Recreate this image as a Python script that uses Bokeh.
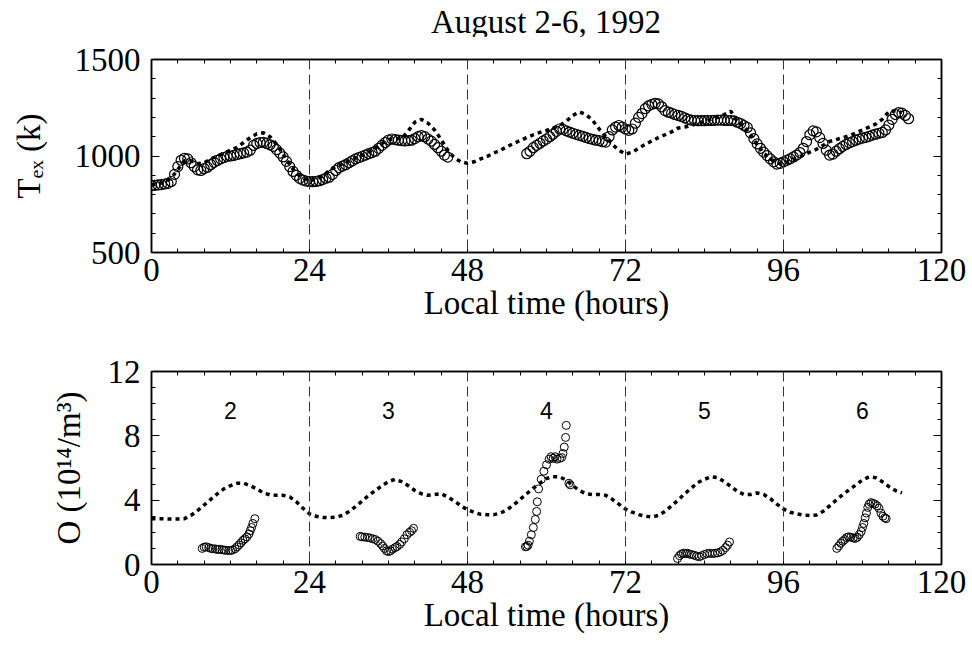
from bokeh.plotting import figure
from bokeh.models import LinearAxis, FixedTicker, Span, Range1d, Div
from bokeh.layouts import column
from bokeh.core.properties import value
from bokeh.embed import file_html
from bokeh.resources import INLINE

# ---------------- data ----------------
title_text = "August 2-6, 1992"
x_label = "Local time (hours)"
tex_label = "T\u2091\u2093 (k)"
o_label = "O (10\u00b9\u2074/m\u00b3)"
x_ticks = [0, 24, 48, 72, 96, 120]
x_minor = [4, 8, 12, 16, 20, 28, 32, 36, 40, 44, 52, 56, 60, 64, 68, 76,
           80, 84, 88, 92, 100, 104, 108, 112, 116]
tex_ticks = [500, 1000, 1500]
tex_minor = [600, 700, 800, 900, 1100, 1200, 1300, 1400]
o_ticks = [0, 4, 8, 12]
o_minor = [1, 2, 3, 5, 6, 7, 9, 10, 11]
day_bounds = [24, 48, 72, 96]
day_names = ["2", "3", "4", "5", "6"]
day_centers = [12, 36, 60, 84, 108]

# observed exospheric temperature (K)
tex_obs_t = [
    0.0, 0.5, 1.0, 1.5, 2.0, 2.5, 3.0, 3.5, 4.0, 4.5,
    5.0, 5.5, 6.0, 6.5, 7.0, 7.5, 8.0, 8.5, 9.0, 9.5,
    10.0, 10.5, 11.0, 11.5, 12.0, 12.5, 13.0, 13.5, 14.0, 14.5,
    15.0, 15.5, 16.0, 16.5, 17.0, 17.5, 18.0, 18.5, 19.0, 19.5,
    20.0, 20.5, 21.0, 21.5, 22.0, 22.5, 23.0, 23.5, 24.0, 24.5,
    25.0, 25.5, 26.0, 26.5, 27.0, 27.5, 28.0, 28.5, 29.0, 29.5,
    30.0, 30.5, 31.0, 31.5, 32.0, 32.5, 33.0, 33.5, 34.0, 34.5,
    35.0, 35.5, 36.0, 36.5, 37.0, 37.5, 38.0, 38.5, 39.0, 39.5,
    40.0, 40.5, 41.0, 41.5, 42.0, 42.5, 43.0, 43.5, 44.0, 44.5, 45.0,
    57.0, 57.5, 58.0, 58.5, 59.0, 59.5, 60.0, 60.5, 61.0, 61.5,
    62.0, 62.5, 63.0, 63.5, 64.0, 64.5, 65.0, 65.5, 66.0, 66.5,
    67.0, 67.5, 68.0, 68.5, 69.0, 69.5, 70.0, 70.5, 71.0, 71.5,
    72.0, 72.5, 73.0, 73.5, 74.0, 74.5, 75.0, 75.5, 76.0, 76.5,
    77.0, 77.5, 78.0, 78.5, 79.0, 79.5, 80.0, 80.5, 81.0, 81.5,
    82.0, 82.5, 83.0, 83.5, 84.0, 84.5, 85.0, 85.5, 86.0, 86.5,
    87.0, 87.5, 88.0, 88.5, 89.0, 89.5, 90.0, 90.5, 91.0, 91.5,
    92.0, 92.5, 93.0, 93.5, 94.0, 94.5, 95.0, 95.5, 96.0, 96.5,
    97.0, 97.5, 98.0, 98.5, 99.0, 99.5, 100.0, 100.5, 101.0, 101.5,
    102.0, 102.5, 103.0, 103.5, 104.0, 104.5, 105.0, 105.5, 106.0, 106.5,
    107.0, 107.5, 108.0, 108.5, 109.0, 109.5, 110.0, 110.5, 111.0, 111.5,
    112.0, 112.5, 113.0, 113.5, 114.0, 114.5, 115.0]
tex_obs = [
    847, 848, 850, 852, 855, 858, 868, 905, 945, 978,
    988, 985, 965, 945, 928, 925, 935, 942, 955, 967,
    977, 985, 992, 998, 1000, 1003, 1008, 1012, 1016, 1020,
    1030, 1055, 1065, 1070, 1071, 1065, 1058, 1050, 1033, 1015,
    995, 972, 945, 920, 900, 884, 875, 870, 868, 867,
    868, 872, 878, 885, 890, 905, 925, 940, 948, 955,
    965, 975, 985, 992, 998, 1005, 1012, 1018, 1025, 1040,
    1055, 1070, 1083, 1088, 1085, 1082, 1080, 1078, 1080, 1082,
    1090, 1100, 1106, 1100, 1088, 1077, 1060, 1043, 1025, 1005, 994,
    1012, 1025, 1043, 1055, 1066, 1078, 1088, 1100, 1113, 1128,
    1140, 1138, 1130, 1124, 1118, 1112, 1107, 1102, 1096, 1090,
    1086, 1082, 1080, 1074, 1072, 1100, 1135, 1150, 1158, 1150,
    1140, 1133, 1140, 1170, 1200, 1220, 1245, 1260, 1268, 1273,
    1270, 1255, 1235, 1227, 1222, 1215, 1210, 1205, 1198, 1190,
    1186, 1184, 1183, 1183, 1183, 1184, 1184, 1185, 1186, 1186,
    1185, 1184, 1184, 1182, 1175, 1168, 1158, 1148, 1120, 1090,
    1063, 1040, 1020, 1002, 985, 970, 958, 962, 970, 978,
    985, 995, 1005, 1018, 1040, 1075, 1110, 1130, 1125, 1095,
    1065, 1030, 1005, 1010, 1025, 1038, 1050, 1060, 1068, 1075,
    1082, 1088, 1093, 1097, 1102, 1108, 1113, 1118, 1122, 1135,
    1160, 1190, 1215, 1225, 1222, 1210, 1193]

# model exospheric temperature (K)
model_t = [
    0, 1, 2, 3, 4, 5, 6, 7, 8, 9, 10, 11, 12, 13, 14, 15, 16, 17, 18, 19,
    20, 21, 22, 23, 24, 25, 26, 27, 28, 29, 30, 31, 32, 33, 34, 35, 36, 37, 38, 39,
    40, 41, 42, 43, 44, 45, 46, 47, 48, 49, 50, 51, 52, 53, 54, 55, 56, 57, 58, 59,
    60, 61, 62, 63, 64, 65, 66, 67, 68, 69, 70, 71, 72, 73, 74, 75, 76, 77, 78, 79,
    80, 81, 82, 83, 84, 85, 86, 87, 88, 89, 90, 91, 92, 93, 94, 95, 96, 97, 98, 99,
    100, 101, 102, 103, 104, 105, 106, 107, 108, 109, 110, 111, 112, 113, 114]
tex_model = [
    850, 855, 865, 885, 930, 975, 975, 960, 965, 985,
    1000, 1015, 1030, 1045, 1070, 1095, 1115, 1120, 1100, 1060,
    1010, 955, 910, 885, 872, 880, 895, 925, 945, 960,
    975, 990, 1005, 1020, 1040, 1065, 1085, 1090, 1090, 1130,
    1175, 1190, 1170, 1135, 1085, 1030, 990, 970, 962, 970,
    985, 998, 1015, 1030, 1048, 1065, 1080, 1095, 1110, 1122,
    1133, 1145, 1158, 1180, 1210, 1228, 1215, 1185, 1140, 1100,
    1060, 1030, 1010, 1020, 1040, 1060, 1078, 1095, 1110, 1125,
    1145, 1150, 1158, 1170, 1180, 1190, 1200, 1215, 1232, 1178,
    1155, 1110, 1060, 1015, 985, 962, 962, 975, 990, 1005,
    1020, 1035, 1055, 1075, 1085, 1095, 1105, 1120, 1135, 1150,
    1165, 1190, 1230, 1235, 1225]

# observed atomic oxygen density (10^14 / m^3)
o_obs_t = [
    7.7, 8.0, 8.3, 8.7, 9.0, 9.3, 9.7, 10.0, 10.3, 10.7, 11.0, 11.3, 11.7, 12.0,
    12.3, 12.7, 13.0, 13.3, 13.6, 13.9, 14.2, 14.5, 14.8, 15.0, 15.2, 15.4, 15.7,
    31.7, 32.0, 32.4, 32.8, 33.2, 33.6, 34.0, 34.4, 34.8, 35.1, 35.4, 35.7, 36.0,
    36.3, 36.6, 37.0, 37.3, 37.7, 38.0, 38.4, 38.8, 39.2, 39.5, 39.8,
    56.8, 57.0, 57.2, 57.4, 57.7, 58.0, 58.3, 58.5, 58.6, 58.8, 59.2, 59.6, 60.0,
    60.4, 60.7, 61.0, 61.3, 61.6, 62.0, 62.3, 62.5, 62.7, 62.9, 63.0, 63.4, 63.6,
    79.9, 80.2, 80.5, 80.8, 81.1, 81.4, 81.7, 82.0, 82.4, 82.8, 83.2, 83.6, 84.0,
    84.4, 84.8, 85.2, 85.6, 86.0, 86.4, 86.8, 87.2, 87.5, 87.8,
    104.1, 104.4, 104.7, 105.0, 105.3, 105.6, 105.9, 106.2, 106.6, 106.9, 107.2,
    107.5, 107.8, 108.0, 108.2, 108.4, 108.6, 108.8, 109.0, 109.3, 109.6, 109.9,
    110.2, 110.5, 110.8, 111.1, 111.4, 111.6]
o_obs = [
    1.0, 1.08, 1.1, 1.05, 1.0, 0.98, 0.97, 0.93, 0.95, 0.92, 0.9, 0.88, 0.87, 0.87,
    0.9, 0.98, 1.1, 1.22, 1.35, 1.5, 1.6, 1.72, 1.9, 2.1, 2.3, 2.55, 2.85,
    1.75, 1.72, 1.7, 1.68, 1.65, 1.6, 1.55, 1.45, 1.3, 1.15, 1.0, 0.85, 0.8,
    0.85, 0.95, 1.05, 1.12, 1.25, 1.4, 1.6, 1.85, 2.0, 2.1, 2.25,
    1.1, 1.12, 1.2, 1.45, 1.85, 2.3, 2.8, 3.3, 3.9, 4.7, 5.3, 5.8, 6.2,
    6.55, 6.7, 6.6, 6.7, 6.55, 6.6, 6.65, 6.9, 7.3, 7.9, 8.65, 5.05, 4.95,
    0.37, 0.55, 0.65, 0.7, 0.68, 0.7, 0.65, 0.62, 0.58, 0.52, 0.48, 0.55, 0.62,
    0.68, 0.7, 0.68, 0.7, 0.72, 0.78, 0.88, 1.05, 1.2, 1.4,
    1.0, 1.15, 1.32, 1.45, 1.55, 1.68, 1.72, 1.7, 1.65, 1.62, 1.7,
    1.85, 2.05, 2.3, 2.55, 2.9, 3.2, 3.55, 3.75, 3.85, 3.8, 3.75,
    3.65, 3.5, 3.2, 3.0, 2.9, 2.85]

# model atomic oxygen density
o_model = [
    2.85, 2.84, 2.84, 2.83, 2.83, 2.85, 3.05, 3.35, 3.7, 4.05,
    4.4, 4.7, 4.9, 5.05, 5.05, 4.9, 4.7, 4.45, 4.33, 4.3,
    4.3, 4.2, 3.9, 3.5, 3.15, 3.0, 2.93, 2.92, 2.95, 3.05,
    3.3, 3.6, 3.95, 4.3, 4.6, 4.9, 5.15, 5.3, 5.15, 4.9,
    4.6, 4.4, 4.3, 4.35, 4.4, 4.2, 3.95, 3.65, 3.4, 3.25,
    3.12, 3.1, 3.1, 3.2, 3.4, 3.7, 4.05, 4.4, 4.75, 5.05,
    5.35, 5.45, 5.45, 5.25, 4.9, 4.6, 4.4, 4.35, 4.35, 4.3,
    4.05, 3.75, 3.45, 3.25, 3.1, 3.0, 2.95, 3.05, 3.3, 3.65,
    4.0, 4.4, 4.75, 5.1, 5.3, 5.45, 5.4, 5.15, 4.85, 4.55,
    4.35, 4.35, 4.45, 4.35, 4.1, 3.75, 3.45, 3.25, 3.15, 3.08,
    3.05, 3.08, 3.3, 3.65, 4.0, 4.35, 4.65, 4.95, 5.25, 5.45,
    5.4, 5.15, 4.85, 4.6, 4.45]

# ---------------- style ----------------
SERIF = "Liberation Serif"
SANS = "Liberation Sans"
FS = "33px"
W = 972
TITLE_H = 36


def style_main_axis(ax, ticks, minor, standoff, label, label_standoff):
    ax.ticker = FixedTicker(ticks=ticks, minor_ticks=minor)
    ax.major_tick_in = 8
    ax.major_tick_out = 0
    ax.minor_tick_in = 4
    ax.minor_tick_out = 0
    ax.axis_line_color = "black"
    ax.axis_line_width = 1.5
    ax.major_tick_line_color = "black"
    ax.minor_tick_line_color = "black"
    ax.major_tick_line_width = 1
    ax.minor_tick_line_width = 1
    ax.major_label_text_font = SERIF
    ax.major_label_text_font_size = FS
    ax.major_label_text_color = "black"
    ax.major_label_standoff = standoff
    ax.axis_label = label
    ax.axis_label_text_font = SERIF
    ax.axis_label_text_font_size = FS
    ax.axis_label_text_font_style = "normal"
    ax.axis_label_text_color = "black"
    ax.axis_label_standoff = label_standoff


def add_mirror(p, side, major, minor):
    # tick-only axes (no labels): majors drawn longer than minors
    for ticks, length, line in ((minor, 4, "black"), (major, 8, None)):
        ax = LinearAxis(ticker=FixedTicker(ticks=[], minor_ticks=ticks),
                        major_tick_in=0, major_tick_out=0,
                        minor_tick_in=length, minor_tick_out=0,
                        minor_tick_line_color="black", minor_tick_line_width=1,
                        axis_line_color=line, axis_line_width=1.5,
                        major_label_standoff=0, axis_label=None)
        p.add_layout(ax, side)


def make_fig(height, top_b, bot_b, yr, yticks, yminor, ylabel, ylabel_standoff):
    p = figure(width=W, height=height, x_range=Range1d(0, 120), y_range=Range1d(*yr),
               output_backend="svg", toolbar_location=None, title=None,
               min_border_left=151, min_border_right=31,
               min_border_top=top_b, min_border_bottom=bot_b,
               background_fill_color="white", border_fill_color="white")
    p.xgrid.grid_line_color = None
    p.ygrid.grid_line_color = None
    p.outline_line_color = "black"
    p.outline_line_width = 1.5
    style_main_axis(p.xaxis[0], x_ticks, x_minor, 6, x_label, 1)
    style_main_axis(p.yaxis[0], yticks, yminor, 11, ylabel, ylabel_standoff)
    add_mirror(p, "above", x_ticks, x_minor)
    add_mirror(p, "right", yticks, yminor)
    for b in day_bounds:
        p.add_layout(Span(location=b, dimension="height", line_color="#333333",
                          line_width=1, line_dash="10 5"))
    return p


# title (centred over the plot frame)
title = Div(text=title_text, width=W, height=TITLE_H, margin=0,
            styles={"font-family": SERIF, "font-size": FS, "line-height": "33px",
                    "color": "black", "text-align": "center",
                    "box-sizing": "border-box", "padding-left": "120px",
                    "padding-top": "6px", "width": f"{W}px", "white-space": "nowrap"})

# top panel
p1 = make_fig(340 - TITLE_H, 59 - TITLE_H, 88, (500, 1500), tex_ticks, tex_minor,
              tex_label, 25)
p1.line(model_t, tex_model, line_color="black", line_width=3.5, line_dash="4 4",
        line_cap="butt")
p1.scatter(tex_obs_t, tex_obs, marker="circle", size=10, fill_color=None,
           line_color="black", line_width=1.2)

# bottom panel
p2 = make_fig(308, 31, 84, (0, 12), o_ticks, o_minor, o_label, 18)
p2.line(model_t, o_model, line_color="black", line_width=3.5, line_dash="4 4",
        line_cap="butt")
p2.scatter(o_obs_t, o_obs, marker="circle", size=8, fill_color=None,
           line_color="black", line_width=1)
p2.text(x=day_centers, y=[9.6] * len(day_centers), text=day_names,
        text_font=value(SANS), text_font_size="23px", text_align="center",
        text_baseline="alphabetic", text_color="black")

layout = column(title, p1, p2, spacing=0)
open("out.html", "w").write(file_html(layout, INLINE))
